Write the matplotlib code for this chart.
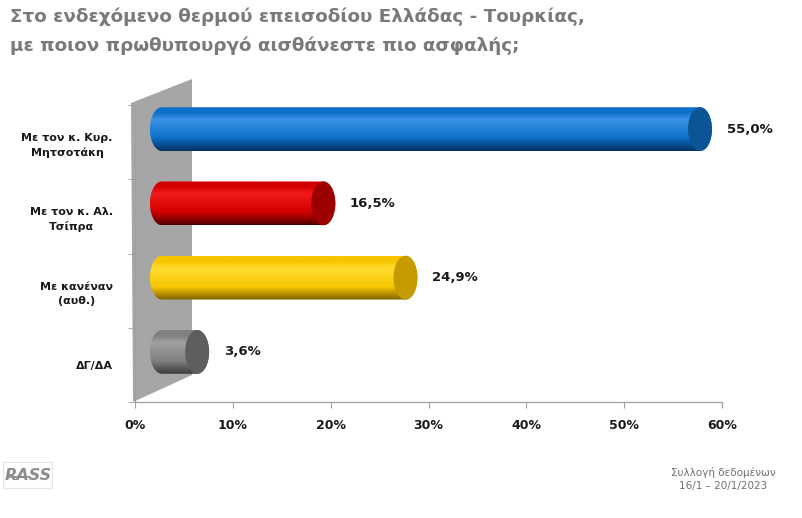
import matplotlib
matplotlib.use('Agg')
import matplotlib.pyplot as plt
import numpy as np
from matplotlib.colors import LinearSegmentedColormap
from matplotlib.patches import Ellipse, PathPatch, Polygon, Rectangle
from matplotlib.path import Path

# data
categories = ['Με τον κ. Κυρ.\nΜητσοτάκη', 'Με τον κ. Αλ.\nΤσίπρα', 'Με κανέναν\n(αυθ.)', 'ΔΓ/ΔΑ']
values = [55.0, 16.5, 24.9, 3.6]
value_labels = ['55,0%', '16,5%', '24,9%', '3,6%']
x_ticks = [0, 10, 20, 30, 40, 50, 60]
x_tick_labels = ['0%', '10%', '20%', '30%', '40%', '50%', '60%']

# (highlight, base, dark, cap) per bar
bar_styles = [
    ('#3a93e6', '#0e6fc8', '#05305f', '#0b5596'),
    ('#f01a1a', '#d40000', '#520000', '#9c0000'),
    ('#ffdc30', '#f7c600', '#7f6100', '#c49b00'),
    ('#a0a0a0', '#808080', '#3c3c3c', '#5e5e5e'),
]

W, H = 802, 518
fig = plt.figure(figsize=(W / 100, H / 100), dpi=100)
fig.patch.set_facecolor('white')

# axes placed by pixel box
left, right, top, bottom = 135, 722, 105, 402
ax = fig.add_axes([left / W, 1 - bottom / H, (right - left) / W, (bottom - top) / H])
ax.set_xlim(0, 60)
ax.set_ylim(-0.5, 3.5)
px_x = (right - left) / 60.0
px_y = (bottom - top) / 4.0

def to_data(px, py):
    return (px - left) / px_x, -0.5 + (bottom - py) / px_y

# gray back wall
wall = [to_data(131, 103), to_data(192, 79), to_data(192, 375), to_data(133, 402)]
ax.add_patch(Polygon(wall, closed=True, facecolor='#a6a6a6', edgecolor='none',
                     zorder=1, clip_on=False))

# cylinders
depth_x = 2.75          # bars sit in the middle of the 3d depth
depth_y = 0.175
bar_h = 0.59
cap_w = 2.45
a, b = cap_w / 2, bar_h / 2
n = len(values)
for i, (v, lab, st) in enumerate(zip(values, value_labels, bar_styles)):
    yc = (n - 1 - i) + depth_y
    x0 = depth_x
    x1 = depth_x + v
    t1 = np.linspace(np.pi / 2, 3 * np.pi / 2, 40)
    t2 = np.linspace(-np.pi / 2, np.pi / 2, 40)
    verts = np.vstack([
        np.column_stack([x0 + a * np.cos(t1), yc + b * np.sin(t1)]),
        np.column_stack([x1 + a * np.cos(t2), yc + b * np.sin(t2)]),
    ])
    verts = np.vstack([verts, verts[:1]])
    hull = PathPatch(Path(verts, closed=True), facecolor='none', edgecolor='none')
    ax.add_patch(hull)
    hi, base, dark, cap = st
    cmap = LinearSegmentedColormap.from_list(
        'cyl%d' % i, [(0, dark), (0.3, base), (0.72, hi), (0.88, base), (1, base)])
    grad = np.linspace(0, 1, 200).reshape(-1, 1)
    im = ax.imshow(grad, cmap=cmap, aspect='auto', origin='lower',
                   extent=(x0 - a, x1 + a, yc - b, yc + b), zorder=2)
    im.set_clip_path(hull)
    ax.add_patch(Ellipse((x1, yc), cap_w, bar_h, facecolor=cap, edgecolor='none', zorder=3))
    ax.text(x1 + a + 1.5, yc, lab, ha='left', va='center', fontsize=9.5,
            fontweight='bold', color='#1a1a1a', zorder=4)

ax.set_xlim(0, 60)
ax.set_ylim(-0.5, 3.5)

# axes styling
for s in ['top', 'right']:
    ax.spines[s].set_visible(False)
for s in ['left', 'bottom']:
    ax.spines[s].set_color('#a0a0a0')
    ax.spines[s].set_linewidth(0.9)
ax.set_xticks(x_ticks)
ax.set_xticklabels(x_tick_labels, fontsize=9, fontweight='bold', color='#1a1a1a')
ax.tick_params(axis='x', length=4, color='#a0a0a0', pad=8)
ax.set_yticks([n - 1 - i for i in range(n)])
ax.set_yticklabels(categories, fontsize=8, fontweight='bold', color='#1a1a1a',
                   multialignment='center', linespacing=1.5)
ax.set_yticks(np.arange(-0.5, n, 1.0), minor=True)
ax.tick_params(axis='y', which='major', length=0, pad=16)
ax.tick_params(axis='y', which='minor', length=5, color='#a0a0a0')
ax.set_facecolor('none')

# title
fig.text(10 / W, 1 - 7 / H,
         'Στο ενδεχόμενο θερμού επεισοδίου Ελλάδας - Τουρκίας,\n'
         'με ποιον πρωθυπουργό αισθάνεστε πιο ασφαλής;',
         ha='left', va='top', fontsize=13.2, fontweight='bold', color='#7a7a7a',
         linespacing=1.75)

# footer
fig.text(723 / W, 1 - 479 / H, 'Συλλογή δεδομένων\n16/1 – 20/1/2023',
         ha='center', va='center', fontsize=7.5, color='#6e6e6e', linespacing=1.3)

# logo
fig.add_artist(Rectangle((3 / W, 1 - 488 / H), 49 / W, 26 / H, transform=fig.transFigure,
                         facecolor='white', edgecolor='#e4e4e4', lw=0.8))
fig.text(28 / W, 1 - 475 / H, 'RASS', ha='center', va='center', fontsize=11.5,
         fontweight='bold', style='italic', color='#8c8c8c')
fig.add_artist(plt.Line2D([7 / W, 30 / W], [1 - 477 / H, 1 - 477 / H],
                          transform=fig.transFigure, color='#8c8c8c', lw=1.2))

fig.savefig('out.png', dpi=100)
